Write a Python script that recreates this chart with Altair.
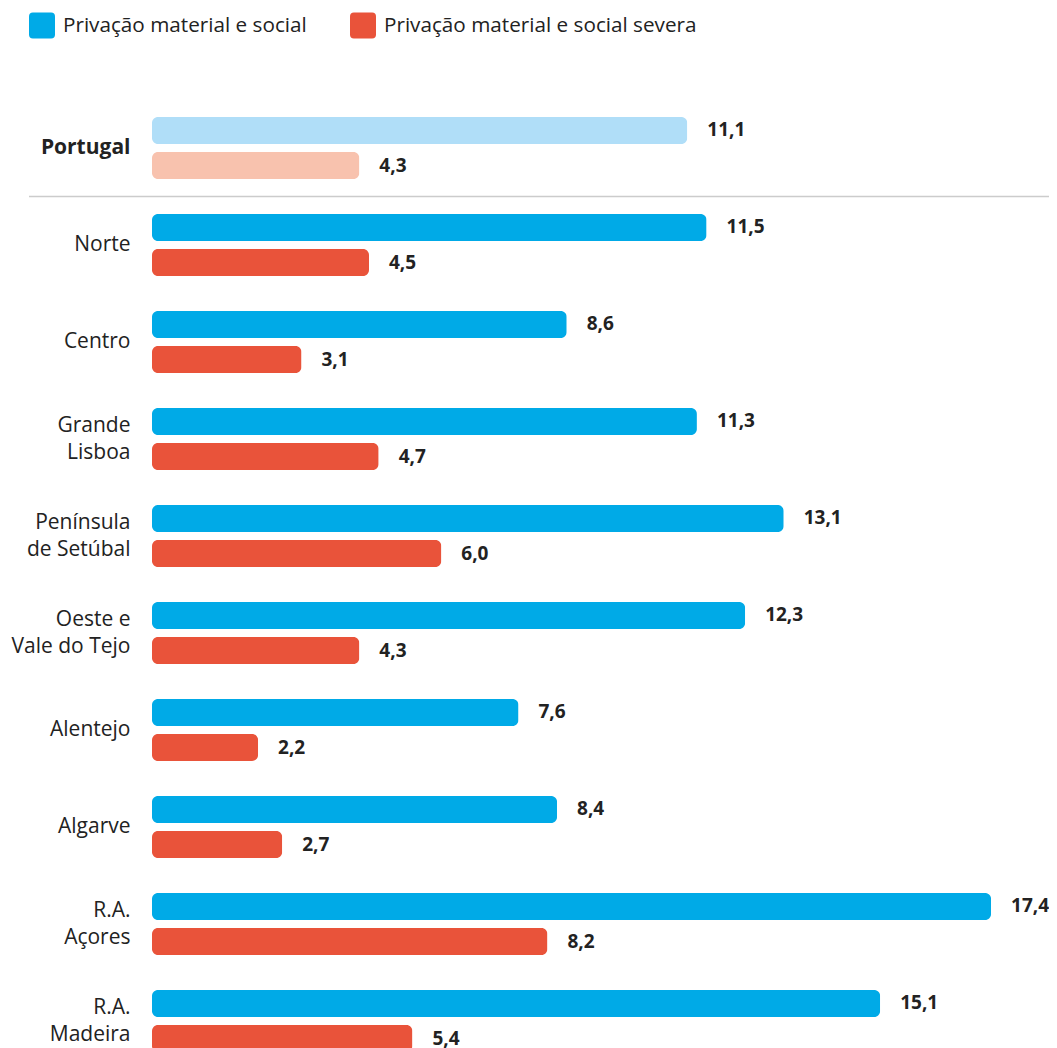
import altair as alt
import pandas as pd

regions = ["Portugal", "Norte", "Centro", "Grande|Lisboa", "Península|de Setúbal",
           "Oeste e|Vale do Tejo", "Alentejo", "Algarve", "R.A.|Açores", "R.A.|Madeira"]
pms = [11.1, 11.5, 8.6, 11.3, 13.1, 12.3, 7.6, 8.4, 17.4, 15.1]
pmss = [4.3, 4.5, 3.1, 4.7, 6.0, 4.3, 2.2, 2.7, 8.2, 5.4]

s1 = "Privação material e social"
s2 = "Privação material e social severa"
series = [s1, s2]
color_domain = [s1, s2, s1 + " (PT)", s2 + " (PT)"]
color_range = ["#00AAE7", "#E9533A", "#B0DEF8", "#F8C2AE"]

rows = []
for r, a, b in zip(regions, pms, pmss):
    for s, v in ((s1, a), (s2, b)):
        key = s + " (PT)" if r == "Portugal" else s
        rows.append({"region": r, "series": s, "value": v, "ckey": key})
df = pd.DataFrame(rows)

FONT = "Open Sans"

rounded = ("M -0.7 -1 L 0.7 -1 Q 1 -1 1 -0.7 L 1 0.7 Q 1 1 0.7 1 "
           "L -0.7 1 Q -1 1 -1 0.7 L -1 -0.7 Q -1 -1 -0.7 -1 Z")

y_enc = alt.Y("region:N", sort=regions,
              scale=alt.Scale(paddingInner=0.36, paddingOuter=0.18),
              axis=alt.Axis(title=None, domain=False, ticks=False, labelPadding=22,
                            labelFontSize=21, labelColor="#222222", labelFont=FONT,
                            labelLineHeight=27, labelExpr="split(datum.label, '|')",
                            labelOffset={"condition": {"test": "indexof(datum.value, '|') >= 0", "value": -13.5},
                                         "value": 0},
                            labelFontWeight={"condition": {"test": "datum.value == 'Portugal'", "value": "bold"},
                                             "value": "normal"}))
yoff = alt.YOffset("series:N", sort=series,
                   scale=alt.Scale(paddingInner=0.2286, paddingOuter=0))
x_enc = alt.X("value:Q", scale=alt.Scale(domain=[0, 18]), axis=None)

base = alt.Chart(df).encode(y=y_enc, yOffset=yoff, x=x_enc)

bars = base.mark_bar(cornerRadius=6).encode(
    color=alt.Color("ckey:N", scale=alt.Scale(domain=color_domain, range=color_range),
                    legend=alt.Legend(title=None, values=[s1, s2], orient="none",
                                      legendX=-123, legendY=-87, direction="horizontal",
                                      symbolType=rounded, symbolSize=676, symbolStrokeWidth=0,
                                      labelFontSize=20.7, labelFont=FONT, labelColor="#222222",
                                      labelOffset=8, columnPadding=43, labelLimit=500,
                                      symbolOpacity=1))
)

labels = base.transform_calculate(
    lab="replace(format(datum.value, '.1f'), '.', ',')"
).mark_text(align="left", baseline="middle", dx=20, fontSize=19, fontWeight="bold",
            font=FONT, color="#222222").encode(text="lab:N")

sep = alt.Chart(pd.DataFrame({"a": [0]})).mark_rule(color="#CCCCCC", strokeWidth=1.5).encode(
    y=alt.value(97), x=alt.value(-123), x2=alt.value(905)
)

chart = alt.layer(bars, labels, sep).properties(
    width=868, height=970,
    autosize=alt.AutoSizeParams(type="none"),
    padding={"left": 144, "top": 91.5, "right": 29, "bottom": 0},
).configure_view(stroke=None)

chart.save("out.html", embed_options={"renderer": "svg", "actions": False})
